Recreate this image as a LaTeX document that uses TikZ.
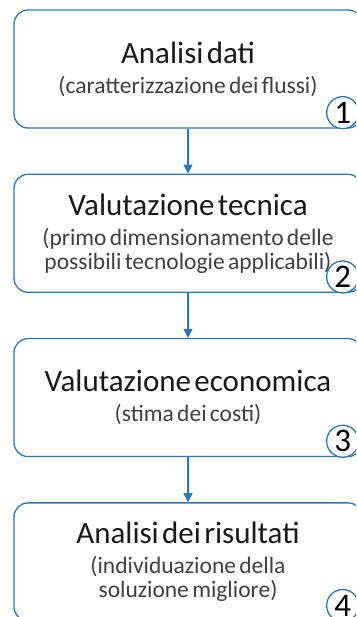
\documentclass[tikz,border=0pt]{standalone}
\usepackage{fontspec}
\setmainfont{Carlito}
\usetikzlibrary{arrows.meta,positioning,calc}
\definecolor{flowblue}{HTML}{2E75B6}
\newcommand{\boxtitle}[1]{{\fontsize{31}{34}\selectfont\color{black!90}#1\par}\vspace{6pt}}
\newcommand{\boxnote}[1]{{\fontsize{23.5}{24}\selectfont\color{black!75}#1\par}\vspace{6pt}}

\begin{document}
\begin{tikzpicture}[x=1pt, y=1pt, >={Triangle[length=9pt,width=9pt]}, node distance=45pt]
	\tikzset{
		stage/.style={draw=flowblue, line width=1.3pt, rounded corners=14pt, fill=white,
			minimum width=348pt, minimum height=118pt, text width=330pt, align=center},
		tag/.style={circle, draw=flowblue, line width=1.3pt, fill=white, inner sep=0pt,
			minimum size=32pt, font=\fontsize{33}{33}\selectfont},
		flow/.style={->, draw=flowblue, line width=1.3pt}
	}
	\clip (0,0) rectangle (356,617);
	
	% Stages {s1, s2, s3, s4}
	\node [stage] (s1) at (188,548) {\boxtitle{Analisi dati}\boxnote{(caratterizzazione dei flussi)}};
	\node [stage] (s2) [below=of s1] {\boxtitle{Valutazione tecnica}\boxnote{(primo dimensionamento delle\\possibili tecnologie applicabili)}};
	\node [stage] (s3) [below=of s2] {\boxtitle{Valutazione economica}\boxnote{(stima dei costi)}};
	\node [stage] (s4) [below=of s3] {\boxtitle{Analisi dei risultati}\boxnote{(individuazione della\\soluzione migliore)}};
	
	% Number tags
	\node [tag] (t1) at ($(s1.south east)+(-20,16)$) {1};
	\node [tag] (t2) at ($(s2.south east)+(-20,16)$) {2};
	\node [tag] (t3) at ($(s3.south east)+(-20,16)$) {3};
	\node [tag] (t4) at ($(s4.south east)+(-20,16)$) {4};
	
	% Paths
	\path [flow] (s1) -- (s2);
	\path [flow] (s2) -- (s3);
	\path [flow] (s3) -- (s4);
\end{tikzpicture}
\end{document}
